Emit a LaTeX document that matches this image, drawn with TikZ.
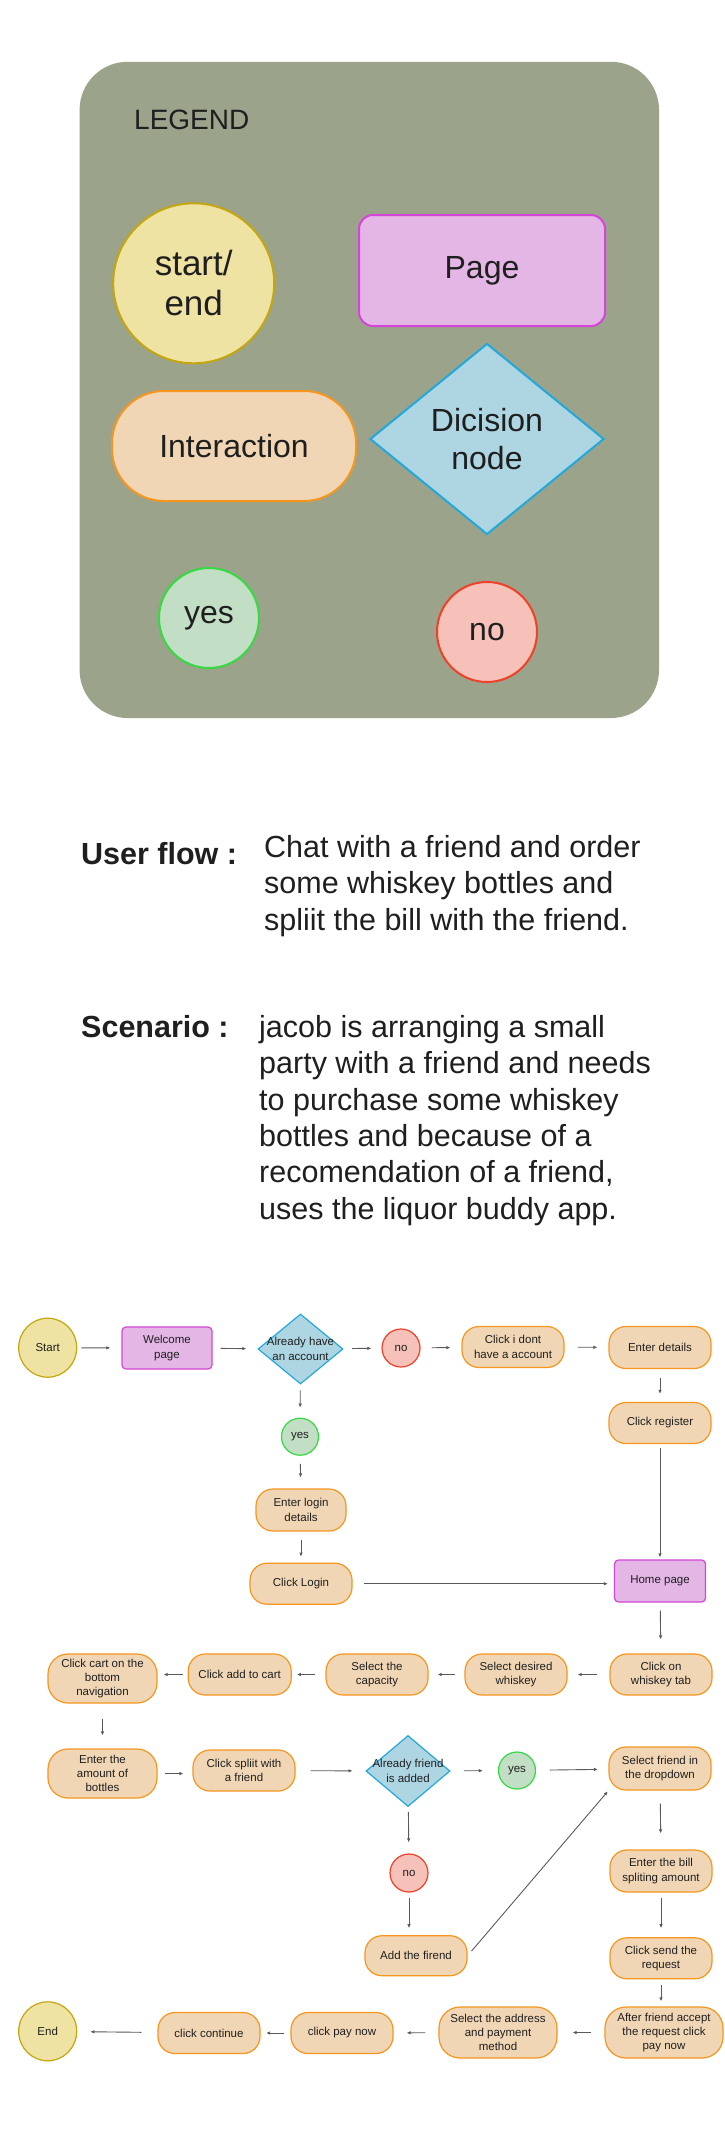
\documentclass[tikz,border=0pt]{standalone}
\usepackage{fontspec}
\setmainfont{Liberation Sans}
\usetikzlibrary{positioning, arrows.meta, shapes.geometric}

\definecolor{legendbg}{HTML}{9BA38B}
\definecolor{termfill}{HTML}{EEE3A3}
\definecolor{termline}{HTML}{C4A60F}
\definecolor{pagefill}{HTML}{E3B6E5}
\definecolor{pageline}{HTML}{D545D8}
\definecolor{actfill}{HTML}{F1D6B5}
\definecolor{actline}{HTML}{F7961F}
\definecolor{decfill}{HTML}{ADD5E2}
\definecolor{decline}{HTML}{22A8DB}
\definecolor{yesfill}{HTML}{C2DEC5}
\definecolor{yesline}{HTML}{35D942}
\definecolor{nofill}{HTML}{F5C1B9}
\definecolor{noline}{HTML}{EE4128}
\definecolor{arrowgrey}{HTML}{5A5A5A}
\definecolor{ink}{HTML}{1F1F1F}

\newcommand\flowfont{\fontsize{11.5}{14.3}\selectfont}
\newcommand\keyfont{\fontsize{32}{38}\selectfont}
\newcommand\parafont{\fontsize{30.5}{36.4}\selectfont}

\tikzset{
  termnode/.style={ellipse, fill=termfill, draw=termline, line width=1.2pt, inner sep=0pt, align=center, text=ink},
  pagebox/.style={rectangle, rounded corners=4pt, fill=pagefill, draw=pageline, line width=1.2pt, inner sep=0pt, align=center, text=ink},
  actbox/.style={rectangle, rounded corners=17pt, fill=actfill, draw=actline, line width=1.2pt, inner sep=0pt, align=center, text=ink, minimum width=102pt, minimum height=41pt},
  decbox/.style={diamond, fill=decfill, draw=decline, line width=1.2pt, inner sep=0pt},
  declbl/.style={inner sep=0pt, align=center, text=ink},
  yesnode/.style={circle, fill=yesfill, draw=yesline, line width=1.2pt, inner sep=0pt, minimum size=37pt, text=ink},
  nonode/.style={circle, fill=nofill, draw=noline, line width=1.2pt, inner sep=0pt, minimum size=38pt, text=ink},
  flow/.style={-{Latex[length=4pt,width=3.5pt]}, draw=arrowgrey, line width=0.9pt},
  spare/.style 2 args={shorten <=#1pt, shorten >=#2pt},
  paratext/.style={anchor=base west, inner sep=0pt, font=\parafont, text=ink},
}

\begin{document}
\begin{tikzpicture}[x=1pt, y=-1pt, font=\flowfont]
  \fill[white] (0,0) rectangle (725,2152);
  \useasboundingbox (0,0) rectangle (725,2152);

  % legend
  \fill[legendbg, rounded corners=48pt] (79.6,61.8) rectangle (659,718);
  \node[anchor=base west, inner sep=0pt, font=\fontsize{28}{32}\selectfont, text=ink] (legendtitle) at (134,129) {LEGEND};
  \node[termnode, line width=2pt, minimum width=161pt, minimum height=160pt, font=\fontsize{35}{40}\selectfont] (lgterm) at (193.7,283.3) {start/\\end};
  \node[pagebox, line width=2pt, rounded corners=14pt, minimum width=246pt, minimum height=111pt, font=\keyfont] (lgpage) at (482,270.5) {Page};
  \node[actbox, line width=2pt, rounded corners=52pt, minimum width=244pt, minimum height=110pt, font=\keyfont] (lgact) at (234,446) {Interaction};
  \node[decbox, line width=2pt, minimum width=234pt, minimum height=191pt,
        label={[declbl, font=\keyfont]center:Dicision\\node}] (lgdec) at (487,439) {};
  \node[yesnode, line width=2pt, minimum size=100pt, font=\keyfont] (lgyes) at (209,618) {yes};
  \node[nonode, line width=2pt, minimum size=100pt, font=\keyfont] (lgno) at (487,632) {no};

  % user flow and scenario
  \node[paratext, font=\bfseries\parafont] (uflabel) at (81,864) {User flow :};
  \foreach \ln [count=\i] in {Chat with a friend and order, some whiskey bottles and,
      spliit the bill with the friend.}
    \node[paratext] (uf\i) at (264,{857.3+36.4*(\i-1)}) {\ln};

  \node[paratext, font=\bfseries\parafont] (sclabel) at (81,1037.3) {Scenario :};
  \foreach \ln [count=\i] in {jacob is arranging a small, party with a friend and needs,
      to purchase some whiskey, bottles and because of a, {recomendation of a friend,},
      uses the liquor buddy app.}
    \node[paratext] (sc\i) at (259,{1037.3+36.4*(\i-1)}) {\ln};

  % flow chart
  \node[termnode, minimum width=58pt, minimum height=59pt] (start) at (47.7,1347.7) {Start};
  \node[pagebox, minimum width=90pt, minimum height=42pt] (welcome) at (167,1348) {Welcome\\page};
  \node[decbox, minimum width=85pt, minimum height=70pt,
        label={[declbl]center:Already have\\an account}] (hasacct) at (300.5,1349) {};
  \node[nonode] (noacct) at (401,1348) {no};
  \node[actbox] (dontacct) at (513,1347) {Click i dont\\have a account};
  \node[actbox, minimum height=42pt] (details) at (660,1347.5) {Enter details};
  \node[actbox] (register) at (660,1423) {Click register};
  \node[yesnode] (yesacct) at (300,1436.7) {yes};
  \node[actbox, minimum width=90pt, minimum height=42pt] (logindet) at (301,1510) {Enter login\\details};
  \node[actbox] (login) at (301,1583.7) {Click Login};
  \node[pagebox, minimum width=91pt, minimum height=42pt] (home) at (660,1581) {Home page};

  \node[actbox] (whiskeytab) at (661,1674.5) {Click on\\whiskey tab};
  \node[actbox] (desired) at (516,1674.5) {Select desired\\whiskey};
  \node[actbox] (capacity) at (377,1674.5) {Select the\\capacity};
  \node[actbox, minimum width=103pt] (addcart) at (239.7,1674.5) {Click add to cart};
  \node[actbox, minimum width=109pt, minimum height=49pt, rounded corners=20pt] (cartnav) at (102.5,1678.5) {Click cart on the\\bottom\\navigation};

  \node[actbox, minimum width=109pt, minimum height=49pt, rounded corners=20pt] (amount) at (102.5,1773.5) {Enter the\\amount of\\bottles};
  \node[actbox] (split) at (244,1770.5) {Click spliit with\\a friend};
  \node[decbox, minimum width=84pt, minimum height=71pt,
        label={[declbl]center:Already friend\\is added}] (isfriend) at (408,1771) {};
  \node[yesnode] (yesfriend) at (517,1770.5) {yes};
  \node[actbox, minimum height=43pt] (selfriend) at (660,1768.5) {Select friend in\\the dropdown};
  \node[nonode] (nofriend) at (409,1873) {no};
  \node[actbox, minimum height=40pt] (addfriend) at (416,1955.7) {Add the firend};
  \node[actbox, minimum height=42pt] (billamt) at (661,1871) {Enter the bill\\spliting amount};
  \node[actbox] (sendreq) at (661,1958.3) {Click send the\\request};

  \node[actbox, minimum width=118pt, minimum height=51pt, rounded corners=21pt] (accepted) at (664,2032.5) {After friend accept\\the request click\\pay now};
  \node[actbox, minimum width=118pt, minimum height=51pt, rounded corners=21pt] (address) at (498,2032.5) {Select the address\\and payment\\method};
  \node[actbox] (paynow) at (342,2033) {click pay now};
  \node[actbox] (continue) at (209,2033) {click continue};
  \node[termnode, minimum width=58pt, minimum height=59pt] (end) at (47.7,2031.3) {End};

  \draw[flow, spare={4}{11}] (start) -- (welcome);
  \draw[flow, spare={8}{11.5}] (welcome) -- (hasacct);
  \draw[flow, spare={9}{10}] (hasacct) -- (noacct);
  \draw[flow, spare={11}{11}] (noacct) -- (dontacct);
  \draw[flow, spare={13}{11}] (dontacct) -- (details);
  \draw[flow, spare={9}{8}] (details) -- (register);
  \draw[flow, spare={4}{2}] (register) -- (home);
  \draw[flow, spare={6}{10}] (hasacct) -- (yesacct);
  \draw[flow, spare={8}{11}] (yesacct) -- (logindet);
  \draw[flow, spare={8}{6}] (logindet) -- (login);
  \draw[flow, spare={11}{6}] (login) -- (login -| home.west);
  \draw[flow, spare={8}{14}] (home) -- (whiskeytab);
  \draw[flow, spare={12}{10}] (whiskeytab) -- (desired);
  \draw[flow, spare={9}{9}] (desired) -- (capacity);
  \draw[flow, spare={10}{5}] (capacity) -- (addcart);
  \draw[flow, spare={5}{6}] (addcart.west) -- (addcart.west -| cartnav.east);
  \draw[flow, spare={15}{13}] (cartnav) -- (amount);
  \draw[flow, spare={7}{9}] (amount.east) -- (amount.east -| split.west);
  \draw[flow, spare={15}{13}] (split) -- (isfriend);
  \draw[flow, spare={13.6}{15}] (isfriend) -- (yesfriend);
  \draw[flow, spare={13.7}{10.5}] (yesfriend) -- (selfriend);
  \draw[flow, spare={5}{11}] (isfriend) -- (nofriend);
  \draw[flow, spare={5}{7}] (nofriend) -- (nofriend |- addfriend.north);
  \draw[flow, spare={6}{1}] (addfriend.east) -- (selfriend.south west);
  \draw[flow, spare={13}{16}] (selfriend) -- (billamt);
  \draw[flow, spare={5}{9}] (billamt) -- (sendreq);
  \draw[flow, spare={6}{5}] (sendreq) -- (sendreq |- accepted.north);
  \draw[flow, spare={13}{15}] (accepted) -- (address);
  \draw[flow, spare={13}{13}] (address) -- (paynow);
  \draw[flow, spare={6}{5.5}] (paynow) -- (continue);
  \draw[flow, spare={16}{13}] (continue) -- (end);
\end{tikzpicture}
\end{document}
